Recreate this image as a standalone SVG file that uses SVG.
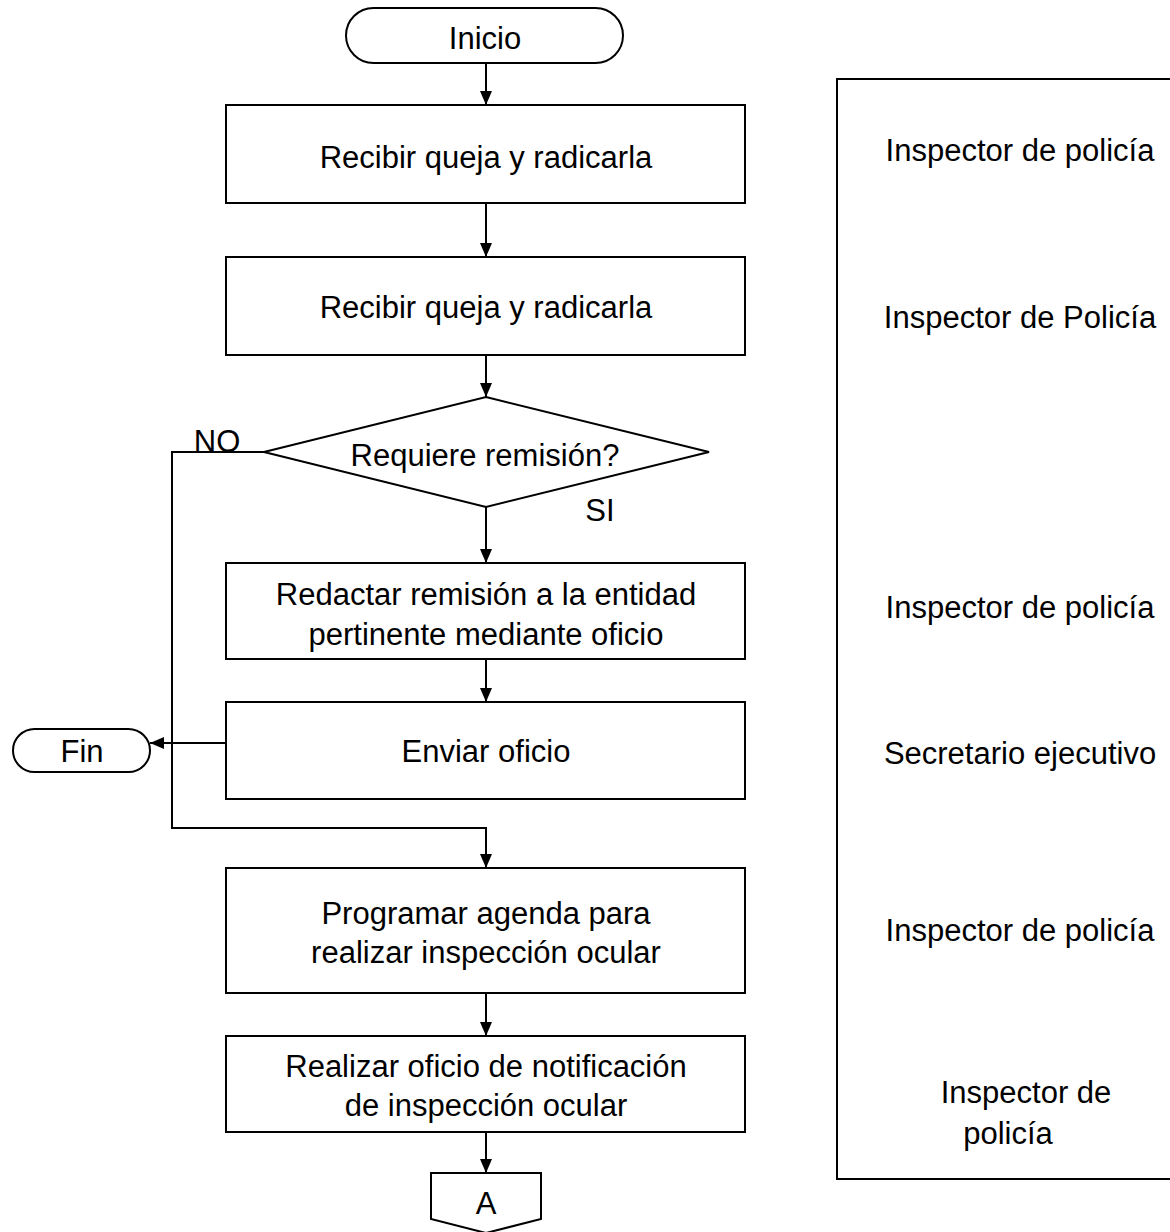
<svg xmlns="http://www.w3.org/2000/svg" width="1170" height="1232" viewBox="0 0 1170 1232">
<defs>
<marker id="arr" markerUnits="userSpaceOnUse" markerWidth="14" markerHeight="14" refX="14" refY="6" orient="auto">
<path d="M0,0 L14,6 L0,12 Z" fill="#000"/>
</marker>
<style>
.s{fill:#fff;stroke:#000;stroke-width:2}
.t{font-family:"Liberation Sans",Arial,sans-serif;font-size:31px;fill:#000;text-anchor:middle}
.c{fill:none;stroke:#000;stroke-width:2}
</style>
</defs>
<rect width="1170" height="1232" fill="#fff"/>
<g id="panel">
<rect class="s" x="837" y="79" width="345" height="1100"/>
<text class="t" x="1020" y="161">Inspector de policía</text>
<text class="t" x="1020" y="328">Inspector de Policía</text>
<text class="t" x="1020" y="618">Inspector de policía</text>
<text class="t" x="1020" y="764">Secretario ejecutivo</text>
<text class="t" x="1020" y="941">Inspector de policía</text>
<text class="t" x="1026" y="1103">Inspector de</text>
<text class="t" x="1008" y="1144">policía</text>
</g>
<g id="connectors">
<line class="c" x1="486" y1="63" x2="486" y2="105" marker-end="url(#arr)"/>
<line class="c" x1="486" y1="203" x2="486" y2="257" marker-end="url(#arr)"/>
<line class="c" x1="486" y1="355" x2="486" y2="397" marker-end="url(#arr)"/>
<line class="c" x1="486" y1="507" x2="486" y2="563" marker-end="url(#arr)"/>
<line class="c" x1="486" y1="659" x2="486" y2="702" marker-end="url(#arr)"/>
<line class="c" x1="226" y1="743" x2="150" y2="743" marker-end="url(#arr)"/>
<polyline class="c" points="264,452 172,452 172,828 486,828 486,868" marker-end="url(#arr)"/>
<line class="c" x1="486" y1="993" x2="486" y2="1036" marker-end="url(#arr)"/>
<line class="c" x1="486" y1="1132" x2="486" y2="1173" marker-end="url(#arr)"/>
<text class="t" x="217" y="452">NO</text>
<text class="t" x="600" y="521">SI</text>
</g>
<g id="inicio">
<rect class="s" x="346" y="8" width="277" height="55" rx="27.5"/>
<text class="t" x="485" y="49">Inicio</text>
</g>
<g id="recibir1">
<rect class="s" x="226" y="105" width="519" height="98"/>
<text class="t" x="486" y="168">Recibir queja y radicarla</text>
</g>
<g id="recibir2">
<rect class="s" x="226" y="257" width="519" height="98"/>
<text class="t" x="486" y="318">Recibir queja y radicarla</text>
</g>
<g id="decision">
<polygon class="s" points="486,397 709,452 486,507 264,452"/>
<text class="t" x="485" y="466">Requiere remisión?</text>
</g>
<g id="redactar">
<rect class="s" x="226" y="563" width="519" height="96"/>
<text class="t" x="486" y="605">Redactar remisión a la entidad</text>
<text class="t" x="486" y="645">pertinente mediante oficio</text>
</g>
<g id="enviar">
<rect class="s" x="226" y="702" width="519" height="97"/>
<text class="t" x="486" y="762">Enviar oficio</text>
</g>
<g id="fin">
<rect class="s" x="13" y="729" width="137" height="43" rx="21.5"/>
<text class="t" x="82" y="762">Fin</text>
</g>
<g id="programar">
<rect class="s" x="226" y="868" width="519" height="125"/>
<text class="t" x="486" y="924">Programar agenda para</text>
<text class="t" x="486" y="963">realizar inspección ocular</text>
</g>
<g id="realizar">
<rect class="s" x="226" y="1036" width="519" height="96"/>
<text class="t" x="486" y="1077">Realizar oficio de notificación</text>
<text class="t" x="486" y="1116">de inspección ocular</text>
</g>
<g id="conectorA">
<polygon class="s" points="431,1173 541,1173 541,1219 486,1233 431,1219"/>
<text class="t" x="486" y="1214">A</text>
</g>
</svg>
